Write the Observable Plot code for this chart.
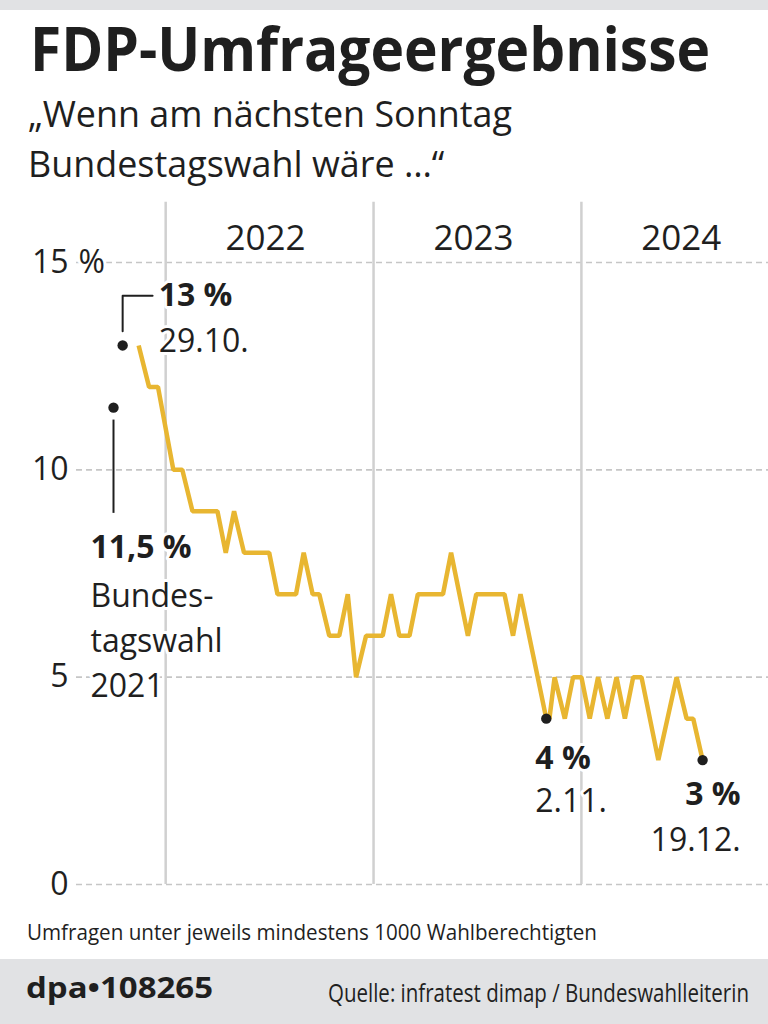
<!DOCTYPE html>
<html>
<head>
<meta charset="utf-8">
<script src="https://cdn.jsdelivr.net/npm/d3@7"></script>
<script src="https://cdn.jsdelivr.net/npm/@observablehq/plot@0.6"></script>
<style>
  html, body { margin: 0; padding: 0; }
  body { width: 768px; height: 1024px; position: relative; overflow: hidden; background: #fff;
         font-family: "Open Sans", "Noto Sans", sans-serif; color: #1f1f1f; }
  .band { position: absolute; left: 0; width: 768px; background: #e1e2e4; }
  .t { position: absolute; white-space: nowrap; line-height: 1; display: inline-block; transform-origin: left top; }
  #chart { position: absolute; left: 0; top: 195px; }
</style>
</head>
<body>
<div class="band" style="top:0;height:10px"></div>
<div class="t" id="title" style="left:30px;top:17px;font-size:61px;font-weight:700;">FDP-Umfrageergebnisse</div>
<div class="t" id="sub1" style="left:28px;top:96px;font-size:36px;">„Wenn am nächsten Sonntag</div>
<div class="t" id="sub2" style="left:28px;top:146px;font-size:36px;">Bundestagswahl wäre …“</div>
<div id="chart"></div>
<div class="t" id="note" style="left:27px;top:922px;font-size:21px;">Umfragen unter jeweils mindestens 1000 Wahlberechtigten</div>
<div class="band" style="top:959px;height:65px"></div>
<div class="t" id="dpa" style="left:26px;top:973px;font-size:28px;font-weight:700;">dpa•108265</div>
<div class="t" id="src" style="left:328px;top:979px;font-size:26px;">Quelle: infratest dimap / Bundeswahlleiterin</div>
<script>
// ---- data ----
// x positions of the polls in decimal years, y values in percent
const pollX = [2021.870, 2021.920, 2021.963, 2022.037, 2022.080, 2022.129, 2022.249, 2022.289,
               2022.329, 2022.377, 2022.498, 2022.538, 2022.627, 2022.664, 2022.707, 2022.739,
               2022.787, 2022.835, 2022.876, 2022.916, 2022.964, 2023.044, 2023.084, 2023.124,
               2023.173, 2023.213, 2023.334, 2023.373, 2023.454, 2023.494, 2023.630, 2023.671,
               2023.707, 2023.831, 2023.846, 2023.871, 2023.920, 2023.960, 2024.000, 2024.040,
               2024.080, 2024.125, 2024.169, 2024.209, 2024.249, 2024.289, 2024.370, 2024.458,
               2024.506, 2024.538, 2024.583];
const pollY = [13, 12, 12, 10, 10, 9, 9, 8,
               9, 8, 8, 7, 7, 8, 7, 7,
               6, 6, 7, 5, 6, 6, 7, 6,
               6, 7, 7, 8, 6, 7, 7, 6,
               7, 4, 4, 5, 4, 5, 5, 4,
               5, 4, 5, 4, 5, 5, 3, 5,
               4, 4, 3];
const yTicks = [0, 5, 10, 15];
const yearStarts = [2022, 2023, 2024];
const yearLabels = ["2022", "2023", "2024"];
// highlighted points
const markerX = [2021.749, 2021.793, 2023.831, 2024.583];
const markerY = [11.5, 13, 4, 3];
const markerValue = ["11,5 %", "13 %", "4 %", "3 %"];
const markerDate = ["Bundes-\ntagswahl\n2021", "29.10.", "2.11.", "19.12."];

// ---- build ----
const polls = pollX.map((x, i) => ({x, y: pollY[i]}));
const markers = markerX.map((x, i) => ({x, y: markerY[i], value: markerValue[i], date: markerDate[i]}));
const years = yearStarts.map((x, i) => ({x, label: yearLabels[i]}));

const ink = "#1f1f1f";
const halo = {stroke: "white", strokeWidth: 6, paintOrder: "stroke", fill: ink};
const m = (i) => [markers[i]];

// connector of the 13 % marker: up from the dot, then to the right
const c13 = [
  {x: markers[1].x, y: markers[1].y + 0.34},
  {x: markers[1].x, y: markers[1].y + 1.2},
  {x: markers[1].x + 0.144, y: markers[1].y + 1.2}
];

const chart = Plot.plot({
  width: 768,
  height: 715,
  marginTop: 67,
  marginBottom: 26,
  marginLeft: 76,
  marginRight: 0,
  x: {domain: [2021.571, 2024.9], axis: null},
  y: {domain: [0, 15], axis: null},
  style: {fontFamily: '"Open Sans", "Noto Sans", sans-serif', color: ink, background: "transparent", overflow: "visible"},
  marks: [
    Plot.ruleY(yTicks, {stroke: "#c6c6c6", strokeWidth: 1.6, strokeDasharray: "6,4"}),
    Plot.ruleX(years, {x: "x", y1: 0, y2: 16.45, stroke: "#d0d0d0", strokeWidth: 2.5}),
    Plot.text(years, {x: d => d.x + 0.5, text: "label", frameAnchor: "top", dy: -37, dx: -4, fontSize: 35, fill: ink}),
    Plot.text(yTicks, {y: d => d, text: d => String(d), frameAnchor: "left", textAnchor: "end", dx: -8, fontSize: 32, ...halo}),
    Plot.text([15], {y: d => d, text: () => "%", frameAnchor: "left", textAnchor: "start", dx: 2, fontSize: 32, ...halo}),
    Plot.line(polls, {x: "x", y: "y", stroke: "#e8b631", strokeWidth: 4.5, strokeLinejoin: "miter", strokeLinecap: "butt"}),
    // connectors
    Plot.line(c13, {x: "x", y: "y", stroke: ink, strokeWidth: 2}),
    Plot.ruleX(m(0), {x: "x", y1: d => d.y - 0.3, y2: d => d.y - 2.55, stroke: ink, strokeWidth: 2}),
    // dots
    Plot.dot(markers, {x: "x", y: "y", r: 5.2, fill: ink}),
    // labels 11,5 %
    Plot.text(m(0), {x: "x", y: "y", text: "value", textAnchor: "start", dx: -23, dy: 140, fontSize: 32, fontWeight: 700, ...halo}),
    Plot.text(m(0), {x: "x", y: "y", text: "date", textAnchor: "start", lineAnchor: "middle", lineHeight: 1.4, dx: -23, dy: 230, fontSize: 32, ...halo}),
    // 13 %
    Plot.text(m(1), {x: "x", y: "y", text: "value", textAnchor: "start", dx: 36, dy: -50, fontSize: 32, fontWeight: 700, ...halo}),
    Plot.text(m(1), {x: "x", y: "y", text: "date", textAnchor: "start", dx: 36, dy: -4, fontSize: 32, ...halo}),
    // 4 %
    Plot.text(m(2), {x: "x", y: "y", text: "value", textAnchor: "start", dx: -11, dy: 40, fontSize: 32, fontWeight: 700, ...halo}),
    Plot.text(m(2), {x: "x", y: "y", text: "date", textAnchor: "start", dx: -11, dy: 83, fontSize: 32, ...halo}),
    // 3 %
    Plot.text(m(3), {x: "x", y: "y", text: "value", textAnchor: "end", dx: 38, dy: 35, fontSize: 32, fontWeight: 700, ...halo}),
    Plot.text(m(3), {x: "x", y: "y", text: "date", textAnchor: "end", dx: 38, dy: 81, fontSize: 32, ...halo})
  ]
});
document.getElementById("chart").appendChild(chart);

// squeeze html texts to the widths of the reference
function fit(id, w) {
  const el = document.getElementById(id);
  const actual = el.getBoundingClientRect().width;
  el.style.transform = `scaleX(${w / actual})`;
  return w / actual;
}
fit("title", 680);
const s = fit("sub1", 484);
document.getElementById("sub2").style.transform = `scaleX(${s})`;
fit("note", 570);
fit("dpa", 187);
fit("src", 421);
</script>
</body>
</html>
